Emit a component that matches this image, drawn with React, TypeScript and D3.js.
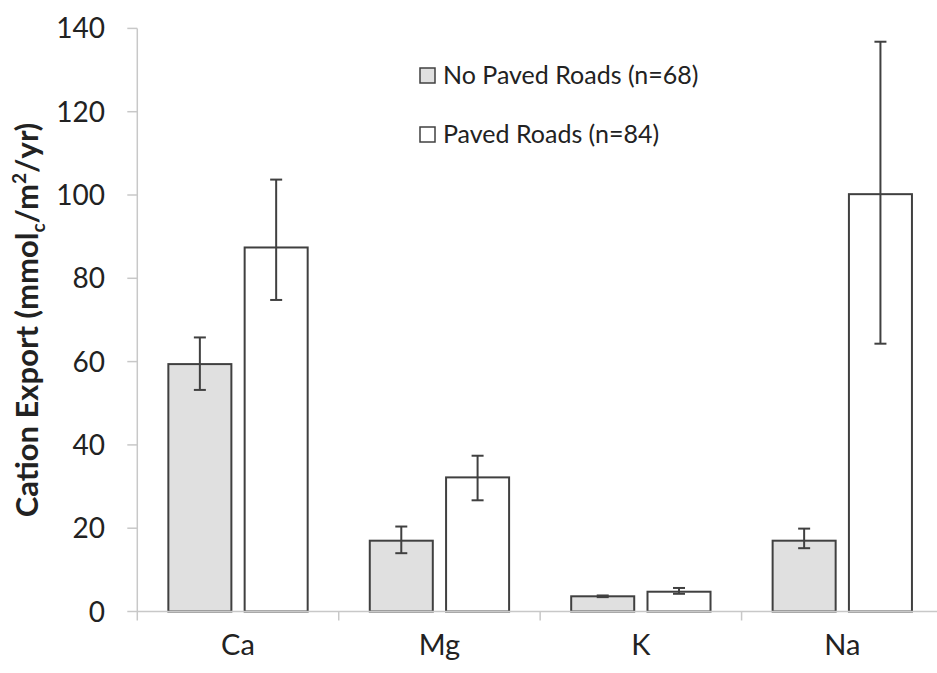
import React from "react";
import * as d3 from "d3";

const categories = ["Ca", "Mg", "K", "Na"];
const seriesNames = ["No Paved Roads (n=68)", "Paved Roads (n=84)"];
const noPaved = [59.4, 17.0, 3.65, 17.0];
const noPavedPlus = [6.4, 3.4, 0.2, 2.9];
const noPavedMinus = [6.2, 3.0, 0.2, 1.8];
const paved = [87.4, 32.2, 4.75, 100.2];
const pavedPlus = [16.3, 5.2, 0.9, 36.6];
const pavedMinus = [12.6, 5.5, 0.5, 35.9];
const yTicks = [0, 20, 40, 60, 80, 100, 120, 140];

const W = 937;
const H = 673;
const FONT = "Lato, 'Open Sans', sans-serif";
const fills = ["#e0e0e0", "#ffffff"];
const ink = "#404040";
const axisGray = "#c8c8c8";

export default function App() {
  const x0 = d3.scaleBand<string>().domain(categories).range([137.3, 943]);
  const x1 = d3
    .scaleBand<string>()
    .domain(seriesNames)
    .range([0, x0.bandwidth()])
    .paddingInner(0.174)
    .paddingOuter(0.407);
  const y = d3.scaleLinear().domain([0, 140]).range([611.5, 28.4]);

  const series = [
    { name: seriesNames[0], vals: noPaved, plus: noPavedPlus, minus: noPavedMinus },
    { name: seriesNames[1], vals: paved, plus: pavedPlus, minus: pavedMinus },
  ];

  const axisLeft = x0.range()[0];

  return (
    <div style={{ position: "absolute", left: 0, top: 0 }}>
      <svg width={W} height={H} style={{ display: "block", background: "#fff" }}>
        {/* y axis */}
        <line x1={axisLeft} x2={axisLeft} y1={y(140)} y2={y(0) + 9} stroke={axisGray} strokeWidth={1.5} />
        {yTicks.map((t) => (
          <g key={t}>
            <line x1={axisLeft - 10} x2={axisLeft} y1={y(t)} y2={y(t)} stroke={axisGray} strokeWidth={1.5} />
            <text
              x={105}
              y={y(t)}
              dy="0.36em"
              textAnchor="end"
              fontFamily={FONT}
              fontSize={28}
              fill="#222"
            >
              {t}
            </text>
          </g>
        ))}
        <text
          transform={`translate(38, ${(y(0) + y(140)) / 2}) rotate(-90)`}
          textAnchor="middle"
          fontFamily={FONT}
          fontSize={31}
          fontWeight="bold"
          fill="#222"
        >
          Cation Export (mmol
          <tspan fontSize={19} dy={7}>c</tspan>
          <tspan dy={-7}>/m</tspan>
          <tspan fontSize={19} dy={-12}>2</tspan>
          <tspan dy={12}>/yr)</tspan>
        </text>

        {/* bars */}
        {categories.map((c, i) => (
          <g key={c} transform={`translate(${x0(c)},0)`}>
            {series.map((s, j) => {
              const bx = x1(s.name) as number;
              const bw = x1.bandwidth();
              const cx = bx + bw / 2;
              const v = s.vals[i];
              const top = y(v + s.plus[i]);
              const bot = y(v - s.minus[i]);
              return (
                <g key={s.name}>
                  <rect
                    x={bx}
                    y={y(v)}
                    width={bw}
                    height={y(0) - y(v)}
                    fill={fills[j]}
                    stroke={ink}
                    strokeWidth={2}
                  />
                  <line x1={cx} x2={cx} y1={top} y2={bot} stroke={ink} strokeWidth={2} />
                  <line x1={cx - 6} x2={cx + 6} y1={top} y2={top} stroke={ink} strokeWidth={2} />
                  <line x1={cx - 6} x2={cx + 6} y1={bot} y2={bot} stroke={ink} strokeWidth={2} />
                </g>
              );
            })}
          </g>
        ))}

        {/* x axis */}
        <line x1={axisLeft} x2={W} y1={y(0)} y2={y(0)} stroke={axisGray} strokeWidth={1.5} />
        {categories.map((c) => (
          <g key={c}>
            <line
              x1={(x0(c) as number) + x0.bandwidth()}
              x2={(x0(c) as number) + x0.bandwidth()}
              y1={y(0)}
              y2={y(0) + 9}
              stroke={axisGray}
              strokeWidth={1.5}
            />
            <text
              x={(x0(c) as number) + x0.bandwidth() / 2}
              y={655}
              textAnchor="middle"
              fontFamily={FONT}
              fontSize={29}
              fill="#222"
            >
              {c}
            </text>
          </g>
        ))}

        {/* legend */}
        {seriesNames.map((n, j) => (
          <g key={n} transform={`translate(420, ${68 + j * 59})`}>
            <rect x={0} y={0} width={15} height={15} fill={fills[j]} stroke={ink} strokeWidth={1.5} />
            <text x={23} y={16} fontFamily={FONT} fontSize={25} fill="#222">
              {n}
            </text>
          </g>
        ))}
      </svg>
    </div>
  );
}
